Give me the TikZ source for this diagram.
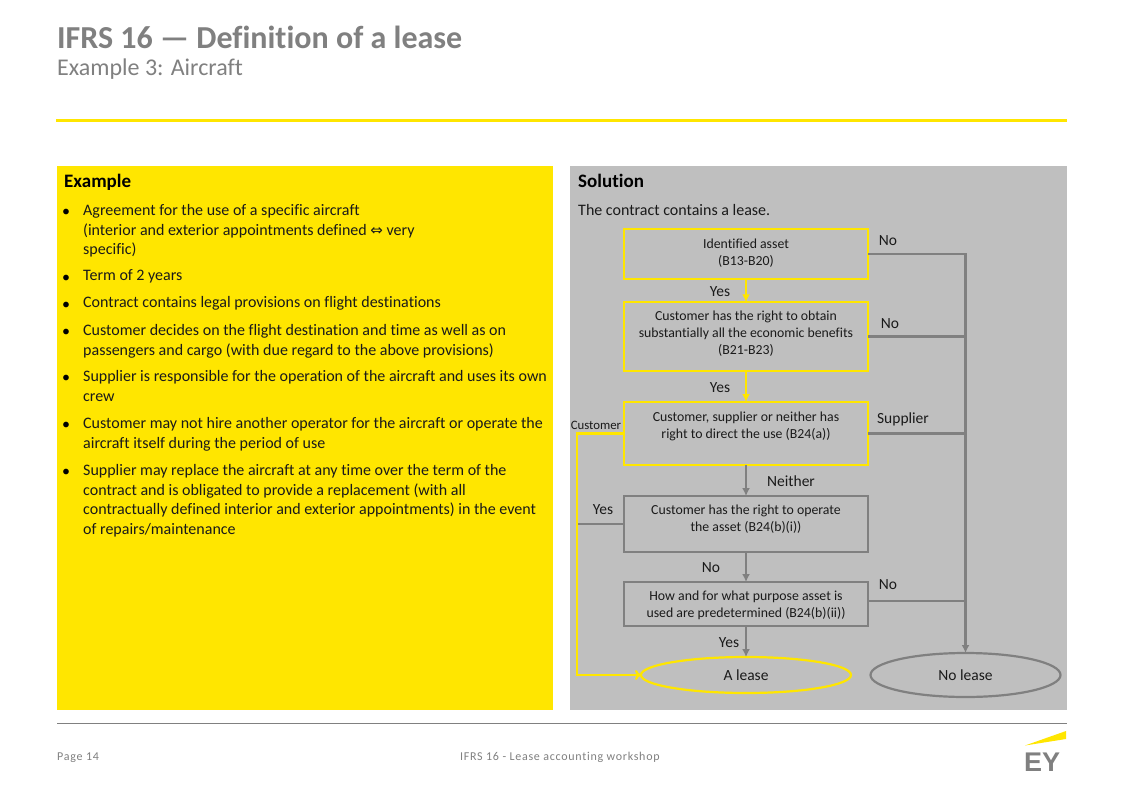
\documentclass[tikz,border=0pt]{standalone}
\usepackage{fontspec}
\setmainfont[Ligatures=NoCommon]{Carlito}
\newfontfamily\symbfont{DejaVu Sans}
\newfontfamily\logofont{Liberation Sans}
\newfontfamily\footfont[LetterSpace=6,Ligatures=NoCommon]{Carlito}
\usetikzlibrary{shapes, arrows.meta}
\definecolor{eyyellow}{HTML}{FFE600}
\definecolor{eygrey}{HTML}{808080}
\definecolor{panelgrey}{HTML}{BFBFBF}
\definecolor{inkgrey}{HTML}{1A1A1A}
\tikzset{
    bodytext/.style={font=\fontsize{16}{19.5}\selectfont, text=inkgrey, align=left, anchor=north west, inner sep=0pt, yshift=-4.6pt, execute at begin node=\strut},
    bulletmark/.style={font=\fontsize{16}{19.5}\selectfont, text=black, inner sep=0pt, yshift=-3pt},
    headtext/.style={font=\fontsize{19}{22}\selectfont\bfseries, text=black, anchor=west, inner sep=0pt},
    flowbox/.style={draw, line width=2.2pt, minimum width=244pt, align=center, outer sep=0pt, inner sep=0pt, text=inkgrey, font=\fontsize{13.8}{17}\selectfont},
    yesbox/.style={flowbox, draw=eyyellow},
    nobox/.style={flowbox, draw=eygrey},
    endoval/.style={ellipse, draw, line width=2.2pt, outer sep=0pt, inner sep=0pt, text=inkgrey, font=\fontsize{15.5}{17}\selectfont},
    flowlabel/.style={text=inkgrey, inner sep=0pt, yshift=-1pt, font=\fontsize{15.5}{17}\selectfont},
    yesline/.style={draw=eyyellow, line width=2.2pt},
    noline/.style={draw=eygrey, line width=2.2pt},
    filledtip/.style={-{Latex[length=8pt,width=8pt]}},
    opentip/.style={-{To[length=6pt,width=10pt]}},
}
\begin{document}
\begin{tikzpicture}[x=1pt,y=-1pt]
    \fill[white] (0,0) rectangle (1123,794);
    \useasboundingbox (0,0) rectangle (1123,794);

    % Titre
    \node[anchor=west, inner sep=0pt, text=eygrey, font=\fontsize{32}{34}\selectfont\bfseries] (title) at (57,37) {IFRS 16 — Definition of a lease};
    \node[anchor=west, inner sep=0pt, text=eygrey, font=\fontsize{24}{26}\selectfont] (subtitle) at (57,69) {Example 3: Aircraft};
    \fill[eyyellow] (56,119) rectangle (1067,122);

    % Panneaux
    \fill[eyyellow] (57,166) rectangle (553,710);
    \fill[panelgrey] (570,166) rectangle (1067,710);

    % Exemple
    \node[headtext] (examplehead) at (64,182.5) {Example};
    \foreach \y in {210,276,303,330,376,423,470}
        \node[bulletmark] (bullet\y) at (66,\y) {•};
    \node[bodytext] (item1) at (83,200) {Agreement for the use of a specific aircraft\\(interior and exterior appointments defined {\symbfont\fontsize{15}{19.5}\selectfont ⇔} very\\specific)};
    \node[bodytext] (item2) at (83,262.5) {Term of 2 years};
    \node[bodytext] (item3) at (83,289.5) {Contract contains legal provisions on flight destinations};
    \node[bodytext] (item4) at (83,320) {Customer decides on the flight destination and time as well as on\\passengers and cargo (with due regard to the above provisions)};
    \node[bodytext] (item5) at (83,366) {Supplier is responsible for the operation of the aircraft and uses its own\\crew};
    \node[bodytext] (item6) at (83,413) {Customer may not hire another operator for the aircraft or operate the\\aircraft itself during the period of use};
    \node[bodytext] (item7) at (83,460) {Supplier may replace the aircraft at any time over the term of the\\contract and is obligated to provide a replacement (with all\\contractually defined interior and exterior appointments) in the event\\of repairs/maintenance};

    % Solution
    \node[headtext] (solutionhead) at (578,180.5) {Solution};
    \node[anchor=west, inner sep=0pt, text=inkgrey, font=\fontsize{16}{19.5}\selectfont] (solutionline) at (578,210) {The contract contains a lease.};

    % Arbre de décision
    \node[yesbox, minimum height=50pt] (asset) at (746,254) {Identified asset\\(B13-B20)\\[-13pt]~};
    \node[yesbox, minimum height=68.5pt] (benefits) at (746,336.5) {Customer has the right to obtain\\substantially all the economic benefits\\(B21-B23)\\[-9pt]~};
    \node[yesbox, minimum height=63pt] (direct) at (746,433.5) {Customer, supplier or neither has\\right to direct the use (B24(a))\\~};
    \node[nobox, minimum height=56pt] (operate) at (746,524) {Customer has the right to operate\\the asset (B24(b)(i))\\[-5pt]~};
    \node[nobox, minimum height=44pt] (purpose) at (746,604) {\rule{0pt}{13pt}How and for what purpose asset is\\used are predetermined (B24(b)(ii))};
    \node[endoval, draw=eyyellow, minimum width=210pt, minimum height=36pt] (lease) at (746,675) {A lease};
    \node[endoval, draw=eygrey, minimum width=190pt, minimum height=44pt] (nolease) at (965.5,675) {No lease};

    % Liaisons
    \coordinate (purposeout) at ([yshift=3pt]purpose.east);
    \coordinate (leftbus) at (577,524);
    \draw[yesline, filledtip] (asset) -- (benefits);
    \draw[yesline, filledtip] (benefits) -- (direct);
    \draw[noline, filledtip] (direct) -- (operate);
    \draw[noline, filledtip] (operate) -- (purpose);
    \draw[noline, filledtip] (purpose) -- (purpose |- lease.north);
    \draw[noline, filledtip] (asset.east) -| (nolease.north);
    \draw[noline] (benefits.east) -- (benefits.east -| nolease.north);
    \draw[noline] (direct.east) -- (direct.east -| nolease.north);
    \draw[noline] (purposeout) -- (purposeout -| nolease.north);
    \draw[noline] (operate.west) -- (leftbus);
    \draw[yesline, opentip] (direct.west) -| (leftbus) |- (lease.west);

    % Libellés
    \node[flowlabel] (noasset) at (888,240) {No};
    \node[flowlabel] (yesasset) at (720,291) {Yes};
    \node[flowlabel] (nobenefits) at (890,323) {No};
    \node[flowlabel] (yesbenefits) at (720,387) {Yes};
    \node[flowlabel] (supplier) at (903,418) {Supplier};
    \node[flowlabel, font=\fontsize{12.8}{14}\selectfont] (customer) at (596,424) {Customer};
    \node[flowlabel] (neither) at (791,480) {Neither};
    \node[flowlabel] (yesoperate) at (603,509) {Yes};
    \node[flowlabel] (nooperate) at (711,567) {No};
    \node[flowlabel] (nopurpose) at (888,584) {No};
    \node[flowlabel] (yespurpose) at (729,642) {Yes};

    % Pied de page
    \draw[eygrey, line width=0.8pt] (57,723.5) -- (1067,723.5);
    \node[anchor=west, inner sep=0pt, text=eygrey, font=\footfont\fontsize{12}{14}\selectfont] (pagenum) at (57,758) {Page 14};
    \node[anchor=west, inner sep=0pt, text=eygrey, font=\footfont\fontsize{12}{14}\selectfont] (workshop) at (460,757.5) {IFRS 16 - Lease accounting workshop};
    \fill[eyyellow] (1025,745.5) -- (1066,731) -- (1066,739) -- cycle;
    \node[inner sep=0pt, text=eygrey, font=\logofont\fontsize{27}{27}\selectfont\bfseries] (logo) at (1042,762) {EY};
\end{tikzpicture}
\end{document}
